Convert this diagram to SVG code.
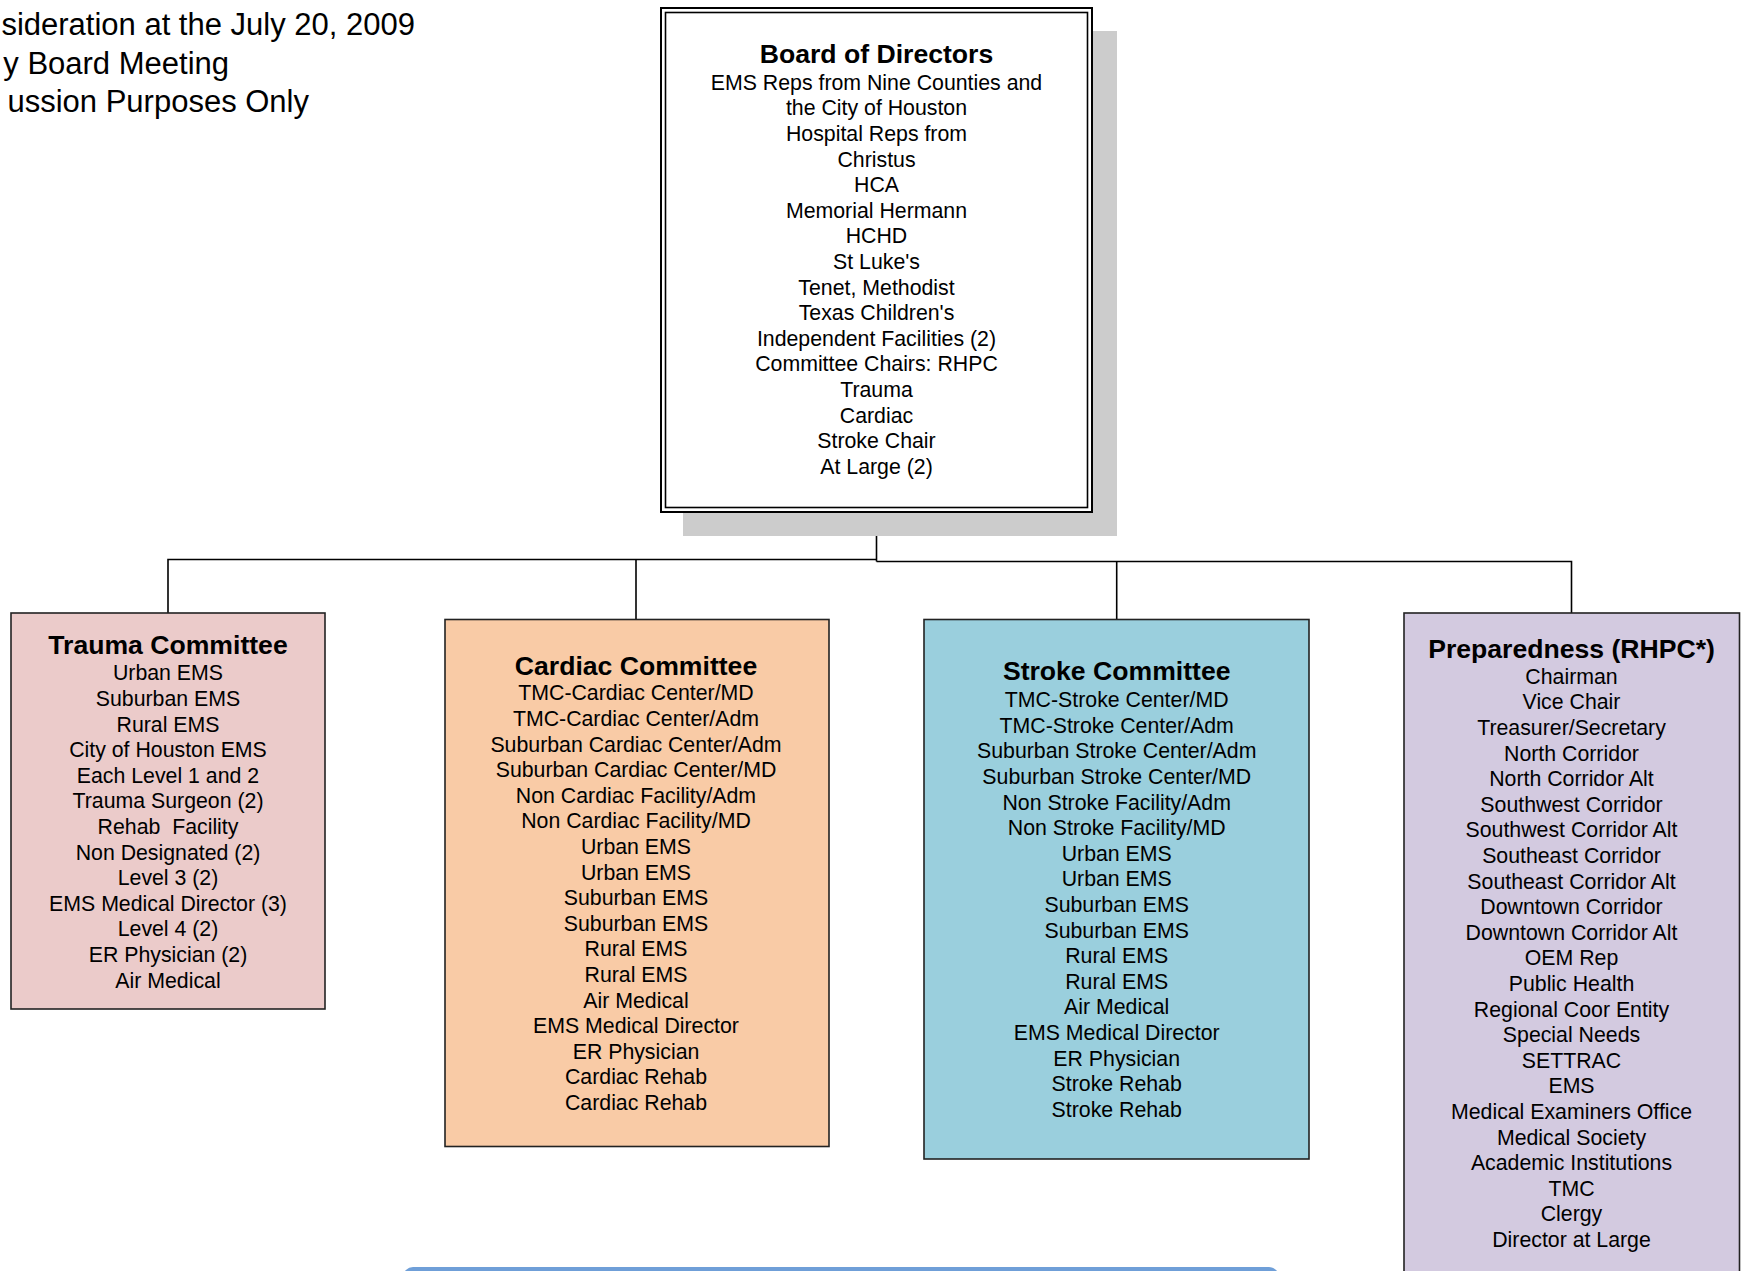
<svg xmlns="http://www.w3.org/2000/svg" width="1744" height="1271" viewBox="0 0 1744 1271">
<style>
text{font-family:"Liberation Sans",Arial,sans-serif;fill:#000}
.note{font-size:31px}
.t{font-size:26.6px;font-weight:bold;text-anchor:middle}
.b{font-size:21.3px;text-anchor:middle;white-space:pre}
.box{stroke:#222;stroke-width:1.6}
.con{stroke:#000;stroke-width:1.6;fill:none}
</style>
<rect width="1744" height="1271" fill="#fff"/>
<g id="note">
<text class="note" x="415" y="35" text-anchor="end">sideration at the July 20, 2009</text>
<text class="note" x="229" y="74" text-anchor="end">y Board Meeting</text>
<text class="note" x="309" y="112" text-anchor="end">ussion Purposes Only</text>
</g>
<g id="connectors">
<polyline class="con" points="876.5,512 876.5,561.5"/>
<polyline class="con" points="168,613 168,559.5 876.5,559.5"/>
<polyline class="con" points="636,619.5 636,559.5"/>
<polyline class="con" points="876.5,561.5 1571.5,561.5 1571.5,613"/>
<polyline class="con" points="1116.7,561.5 1116.7,619.5"/>
</g>
<g id="board">
<rect x="683" y="31" width="434" height="505" fill="#cccccc"/>
<rect x="661" y="8" width="431" height="504" fill="#fff" stroke="#000" stroke-width="2"/>
<rect x="665.5" y="12.5" width="422" height="495" fill="none" stroke="#000" stroke-width="1.6"/>
<text class="t" x="876.5" y="62.9">Board of Directors</text>
<text class="b" x="876.5" y="89.8">EMS Reps from Nine Counties and<tspan x="876.5" dy="25.6">the City of Houston</tspan><tspan x="876.5" dy="25.6">Hospital Reps from</tspan><tspan x="876.5" dy="25.6">Christus</tspan><tspan x="876.5" dy="25.6">HCA</tspan><tspan x="876.5" dy="25.6">Memorial Hermann</tspan><tspan x="876.5" dy="25.6">HCHD</tspan><tspan x="876.5" dy="25.6">St Luke's</tspan><tspan x="876.5" dy="25.6">Tenet, Methodist</tspan><tspan x="876.5" dy="25.6">Texas Children's</tspan><tspan x="876.5" dy="25.6">Independent Facilities (2)</tspan><tspan x="876.5" dy="25.6">Committee Chairs: RHPC</tspan><tspan x="876.5" dy="25.6">Trauma</tspan><tspan x="876.5" dy="25.6">Cardiac</tspan><tspan x="876.5" dy="25.6">Stroke Chair</tspan><tspan x="876.5" dy="25.6">At Large (2)</tspan></text>
</g>
<g id="trauma">
<rect class="box" x="11" y="613" width="314" height="396" fill="#EBCBCA"/>
<text class="t" x="168" y="653.5">Trauma Committee</text>
<text class="b" x="168" y="680.4">Urban EMS<tspan x="168" dy="25.6">Suburban EMS</tspan><tspan x="168" dy="25.6">Rural EMS</tspan><tspan x="168" dy="25.6">City of Houston EMS</tspan><tspan x="168" dy="25.6">Each Level 1 and 2</tspan><tspan x="168" dy="25.6">Trauma Surgeon (2)</tspan><tspan x="168" dy="25.6">Rehab  Facility</tspan><tspan x="168" dy="25.6">Non Designated (2)</tspan><tspan x="168" dy="25.6">Level 3 (2)</tspan><tspan x="168" dy="25.6">EMS Medical Director (3)</tspan><tspan x="168" dy="25.6">Level 4 (2)</tspan><tspan x="168" dy="25.6">ER Physician (2)</tspan><tspan x="168" dy="25.6">Air Medical</tspan></text>
</g>
<g id="cardiac">
<rect class="box" x="445" y="619.5" width="384" height="527" fill="#F9CBA6"/>
<text class="t" x="636" y="674.6">Cardiac Committee</text>
<text class="b" x="636" y="700.4">TMC-Cardiac Center/MD<tspan x="636" dy="25.6">TMC-Cardiac Center/Adm</tspan><tspan x="636" dy="25.6">Suburban Cardiac Center/Adm</tspan><tspan x="636" dy="25.6">Suburban Cardiac Center/MD</tspan><tspan x="636" dy="25.6">Non Cardiac Facility/Adm</tspan><tspan x="636" dy="25.6">Non Cardiac Facility/MD</tspan><tspan x="636" dy="25.6">Urban EMS</tspan><tspan x="636" dy="25.6">Urban EMS</tspan><tspan x="636" dy="25.6">Suburban EMS</tspan><tspan x="636" dy="25.6">Suburban EMS</tspan><tspan x="636" dy="25.6">Rural EMS</tspan><tspan x="636" dy="25.6">Rural EMS</tspan><tspan x="636" dy="25.6">Air Medical</tspan><tspan x="636" dy="25.6">EMS Medical Director</tspan><tspan x="636" dy="25.6">ER Physician</tspan><tspan x="636" dy="25.6">Cardiac Rehab</tspan><tspan x="636" dy="25.6">Cardiac Rehab</tspan></text>
</g>
<g id="stroke">
<rect class="box" x="924" y="619.5" width="385" height="539.5" fill="#9ACFDD"/>
<text class="t" x="1116.7" y="680.2">Stroke Committee</text>
<text class="b" x="1116.7" y="707.1">TMC-Stroke Center/MD<tspan x="1116.7" dy="25.6">TMC-Stroke Center/Adm</tspan><tspan x="1116.7" dy="25.6">Suburban Stroke Center/Adm</tspan><tspan x="1116.7" dy="25.6">Suburban Stroke Center/MD</tspan><tspan x="1116.7" dy="25.6">Non Stroke Facility/Adm</tspan><tspan x="1116.7" dy="25.6">Non Stroke Facility/MD</tspan><tspan x="1116.7" dy="25.6">Urban EMS</tspan><tspan x="1116.7" dy="25.6">Urban EMS</tspan><tspan x="1116.7" dy="25.6">Suburban EMS</tspan><tspan x="1116.7" dy="25.6">Suburban EMS</tspan><tspan x="1116.7" dy="25.6">Rural EMS</tspan><tspan x="1116.7" dy="25.6">Rural EMS</tspan><tspan x="1116.7" dy="25.6">Air Medical</tspan><tspan x="1116.7" dy="25.6">EMS Medical Director</tspan><tspan x="1116.7" dy="25.6">ER Physician</tspan><tspan x="1116.7" dy="25.6">Stroke Rehab</tspan><tspan x="1116.7" dy="25.6">Stroke Rehab</tspan></text>
</g>
<g id="preparedness">
<rect class="box" x="1404" y="613" width="335.5" height="700" fill="#D3CAE0"/>
<text class="t" x="1571.5" y="657.9">Preparedness (RHPC*)</text>
<text class="b" x="1571.5" y="683.7">Chairman<tspan x="1571.5" dy="25.6">Vice Chair</tspan><tspan x="1571.5" dy="25.6">Treasurer/Secretary</tspan><tspan x="1571.5" dy="25.6">North Corridor</tspan><tspan x="1571.5" dy="25.6">North Corridor Alt</tspan><tspan x="1571.5" dy="25.6">Southwest Corridor</tspan><tspan x="1571.5" dy="25.6">Southwest Corridor Alt</tspan><tspan x="1571.5" dy="25.6">Southeast Corridor</tspan><tspan x="1571.5" dy="25.6">Southeast Corridor Alt</tspan><tspan x="1571.5" dy="25.6">Downtown Corridor</tspan><tspan x="1571.5" dy="25.6">Downtown Corridor Alt</tspan><tspan x="1571.5" dy="25.6">OEM Rep</tspan><tspan x="1571.5" dy="25.6">Public Health</tspan><tspan x="1571.5" dy="25.6">Regional Coor Entity</tspan><tspan x="1571.5" dy="25.6">Special Needs</tspan><tspan x="1571.5" dy="25.6">SETTRAC</tspan><tspan x="1571.5" dy="25.6">EMS</tspan><tspan x="1571.5" dy="25.6">Medical Examiners Office</tspan><tspan x="1571.5" dy="25.6">Medical Society</tspan><tspan x="1571.5" dy="25.6">Academic Institutions</tspan><tspan x="1571.5" dy="25.6">TMC</tspan><tspan x="1571.5" dy="25.6">Clergy</tspan><tspan x="1571.5" dy="25.6">Director at Large</tspan></text>
</g>
<g id="footer-bar">
<rect x="403" y="1267" width="876" height="40" rx="10" fill="#6F9FD8"/>
</g>
</svg>
